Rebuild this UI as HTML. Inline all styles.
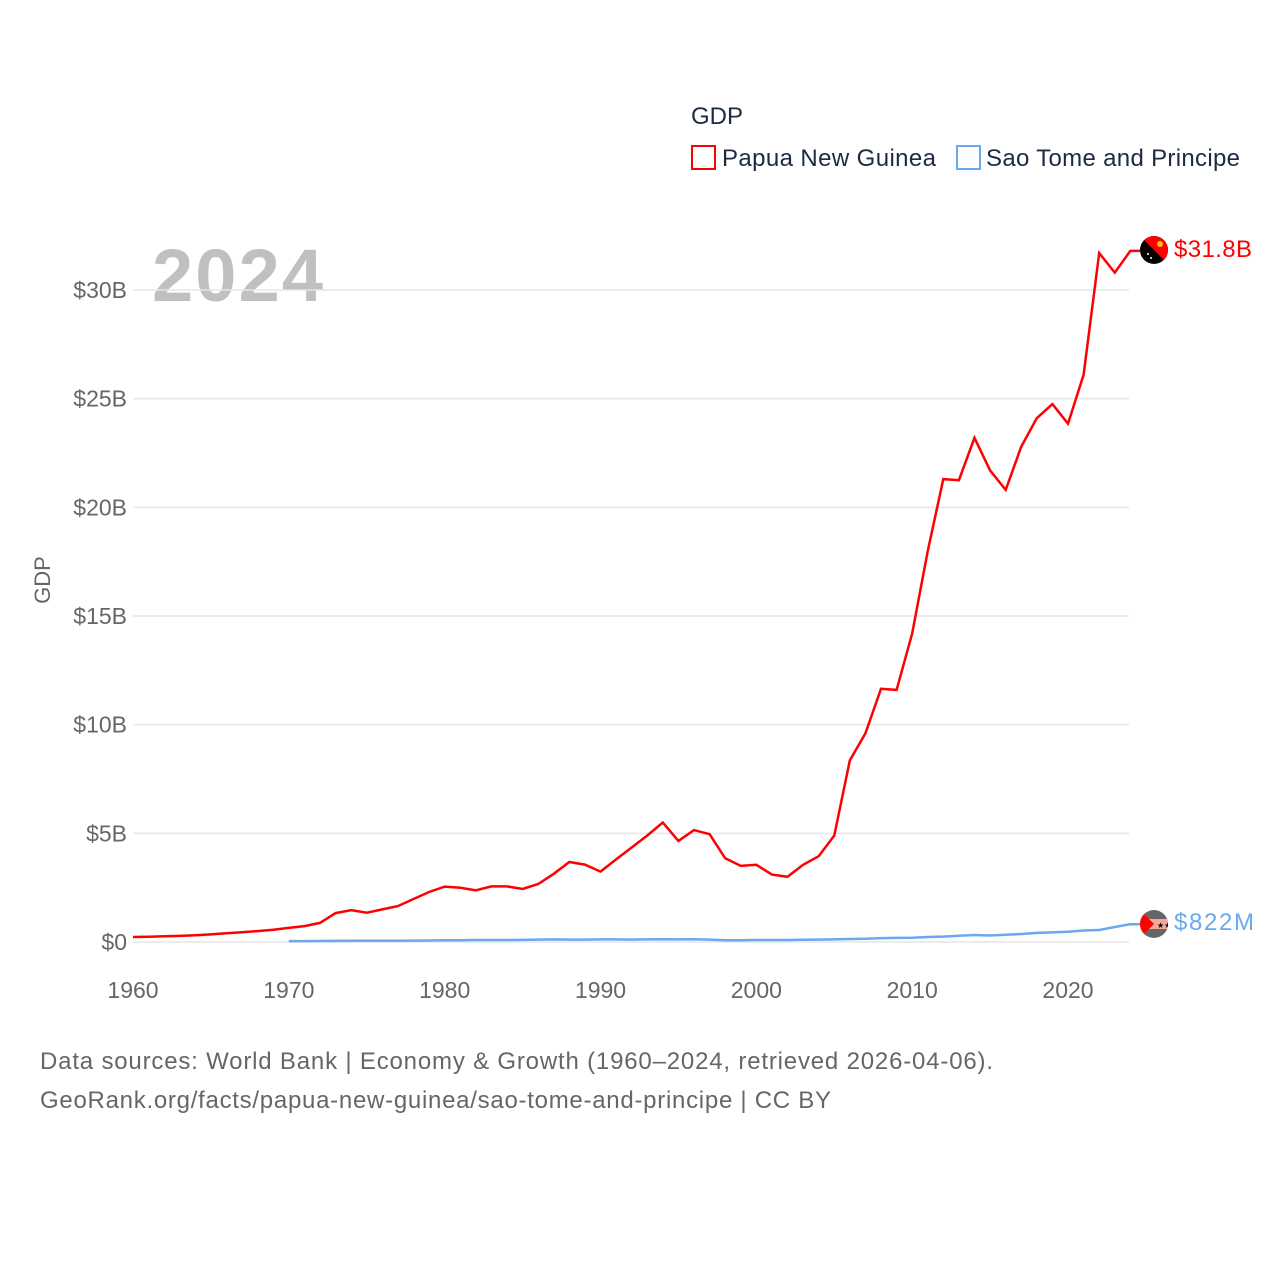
<!DOCTYPE html>
<html><head><meta charset="utf-8"><style>
body{margin:0;background:#fff;}
svg{font-family:"Liberation Sans",sans-serif;}
</style></head><body>
<svg width="1280" height="1280" viewBox="0 0 1280 1280">
<text x="691" y="124" font-size="24" fill="#1d2a44">GDP</text>
<g>
<rect x="692" y="146" width="23" height="23" fill="none" stroke="#ff0000" stroke-width="2"/>
<text x="722" y="166" font-size="24" fill="#1d2a44" textLength="214">Papua New Guinea</text></g>
<g>
<rect x="957" y="146" width="23" height="23" fill="none" stroke="#6aa9ee" stroke-width="2"/>
<text x="986" y="166" font-size="24" fill="#1d2a44" textLength="254">Sao Tome and Principe</text></g>
<text x="152" y="301" font-size="74" font-weight="bold" fill="#c0c0c0" textLength="171">2024</text>
<g id="grid"></g>
<g id="yt"></g>
<g id="xt"></g>
<text transform="translate(50,580) rotate(-90)" text-anchor="middle" font-size="22" fill="#666">GDP</text>
<path id="stp" fill="none" stroke="#6aa9ee" stroke-width="2.5"/>
<path id="png" fill="none" stroke="#ff0000" stroke-width="2.5"/>
<g>
<clipPath id="c1"><circle cx="1154" cy="250" r="14"/></clipPath>
<g clip-path="url(#c1)"><rect x="1140" y="236" width="28" height="28" fill="#000"/><polygon points="1140,236 1168,236 1168,264" fill="#ff0000"/><circle cx="1160" cy="244" r="3" fill="#f5c400"/><circle cx="1148" cy="254" r="1" fill="#fff"/><circle cx="1151" cy="258" r="1" fill="#fff"/></g></g>
<g>
<clipPath id="c2"><circle cx="1154" cy="924" r="14"/></clipPath>
<g clip-path="url(#c2)"><rect x="1140" y="910" width="28" height="28" fill="#666"/><rect x="1140" y="919" width="28" height="10" fill="#f7a89a"/><polygon points="1140,910 1154,924 1140,938" fill="#ff0000"/><text x="1157" y="928" font-size="8" fill="#000">★★</text></g></g>
<text x="1174" y="257" font-size="24" fill="#ff0000" textLength="78">$31.8B</text>
<text x="1174" y="930" font-size="24" fill="#6aa9ee" textLength="80">$822M</text>
<text x="40" y="1069" font-size="24" fill="#666" textLength="953">Data sources: World Bank | Economy &amp; Growth (1960–2024, retrieved 2026-04-06).</text>
<text x="40" y="1108" font-size="24" fill="#666" textLength="791">GeoRank.org/facts/papua-new-guinea/sao-tome-and-principe | CC BY</text>
</svg>
<script>
const pngYears=[];for(let y=1960;y<=2024;y++)pngYears.push(y);
const pngValues=[0.23,0.24,0.26,0.28,0.31,0.35,0.40,0.45,0.50,0.56,0.65,0.73,0.88,1.33,1.47,1.35,1.5,1.65,1.98,2.3,2.55,2.5,2.38,2.56,2.56,2.44,2.67,3.14,3.68,3.56,3.24,3.8,4.35,4.9,5.5,4.65,5.15,4.96,3.85,3.5,3.55,3.1,3.0,3.55,3.95,4.9,8.35,9.6,11.65,11.6,14.2,18.0,21.3,21.25,23.2,21.7,20.8,22.8,24.1,24.75,23.85,26.1,31.7,30.8,31.8];
const stpYears=[];for(let y=1970;y<=2024;y++)stpYears.push(y);
const stpValues=[0.04,0.04,0.045,0.05,0.055,0.055,0.06,0.06,0.065,0.07,0.08,0.085,0.09,0.09,0.09,0.095,0.11,0.12,0.11,0.11,0.12,0.12,0.11,0.12,0.13,0.12,0.13,0.11,0.08,0.08,0.09,0.09,0.09,0.1,0.11,0.12,0.14,0.15,0.18,0.19,0.2,0.23,0.25,0.29,0.32,0.3,0.33,0.37,0.42,0.44,0.47,0.53,0.55,0.69,0.82];
const yTicks=[0,5,10,15,20,25,30];
const yTickLabels=["$0","$5B","$10B","$15B","$20B","$25B","$30B"];
const xTicks=[1960,1970,1980,1990,2000,2010,2020];
const X=yr=>133+(yr-1960)*935/60;
const Y=v=>942-v*652/30;
const NS='http://www.w3.org/2000/svg';
const grid=document.getElementById('grid'),yt=document.getElementById('yt'),xt=document.getElementById('xt');
yTicks.forEach((t,i)=>{
 const l=document.createElementNS(NS,'line');
 l.setAttribute('x1',133);l.setAttribute('x2',1129);l.setAttribute('y1',Y(t));l.setAttribute('y2',Y(t));
 l.setAttribute('stroke','#e6e6e6');l.setAttribute('stroke-width','1.5');
 
 
 grid.appendChild(l);
 const tx=document.createElementNS(NS,'text');
 tx.setAttribute('x',127);tx.setAttribute('y',Y(t)+8);tx.setAttribute('text-anchor','end');
 tx.setAttribute('font-size','23');tx.setAttribute('fill','#666');tx.textContent=yTickLabels[i];
 
 
 yt.appendChild(tx);
});
xTicks.forEach(t=>{
 const tx=document.createElementNS(NS,'text');
 tx.setAttribute('x',X(t));tx.setAttribute('y',998);tx.setAttribute('text-anchor','middle');
 tx.setAttribute('font-size','23');tx.setAttribute('fill','#666');tx.textContent=t;
 
 
 xt.appendChild(tx);
});
const path=(ys,vs)=>vs.map((v,i)=>(i?'L':'M')+X(ys[i]).toFixed(1)+','+Y(v).toFixed(1)).join('');
document.getElementById('png').setAttribute('d',path(pngYears,pngValues)+'L1140,'+Y(pngValues[pngValues.length-1]).toFixed(1));
document.getElementById('stp').setAttribute('d',path(stpYears,stpValues)+'L1140,'+Y(stpValues[stpValues.length-1]).toFixed(1));
</script>
</body></html>
